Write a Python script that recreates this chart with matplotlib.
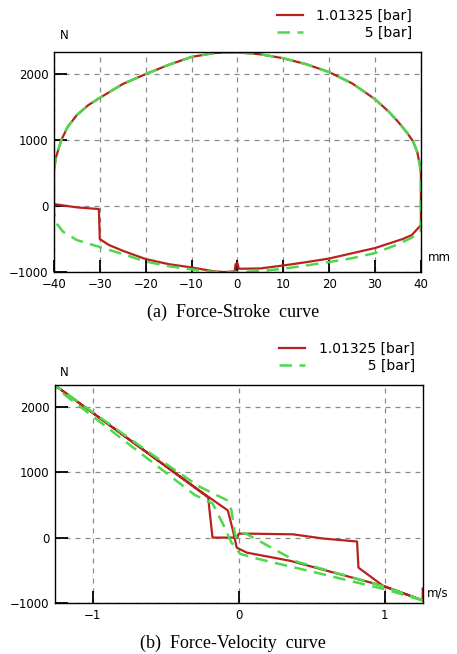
import numpy as np
import matplotlib
matplotlib.use("Agg")
import matplotlib.pyplot as plt

# ---- data ----
# (a) force-stroke, upper arc (shared shape) and lower branches
arc_stroke = [-40, -40, -39.5, -38.4, -37, -35, -32.5, -30, -25, -20, -15, -10, -5, 0,
              5, 10, 15, 20, 25, 30, 33, 35, 37, 38.3, 39.2, 39.7, 40]
arc_force = [30, 550, 750, 1000, 1200, 1380, 1530, 1640, 1850, 2000, 2140, 2260, 2320, 2330,
             2300, 2240, 2150, 2030, 1860, 1620, 1430, 1280, 1110, 980, 820, 650, 500]

low_stroke_red = [40, 38, 36, 30, 25, 20, 15, 10, 5, 0.3, 0, -0.4, -0.6, -3, -5, -10, -15,
                  -20, -25, -28, -30, -30.2, -35, -40]
low_force_red = [-290, -440, -500, -636, -715, -795, -850, -900, -945, -950, -860, -880, -990,
                 -1000, -990, -930, -880, -803, -677, -590, -500, -45, -20, 30]

low_stroke_green = [40, 38, 35, 30, 25, 20, 15, 10, 5, 0, -5, -10, -15, -20, -25, -30, -35,
                    -38, -39.5, -40, -40]
low_force_green = [-370, -480, -580, -712, -790, -848, -900, -950, -985, -1000, -1000, -960,
                   -910, -840, -727, -621, -515, -389, -258, -90, 550]

# (b) force-velocity loops
vel_red = [1.26, 1.26, 0.99, 0.82, 0.81, 0.58, 0.37, 0.07, 0.0, -0.01, -0.18, -0.21, -1.26,
           -0.27, -0.075, -0.04, -0.014, 0.055, 0.35, 0.99, 1.26]
fv_red = [-780, -960, -740, -460, -60, -15, 50, 60, 60, 0, 0, 615, 2330,
          720, 415, 108, -154, -230, -354, -740, -960]

vel_green = [1.26, 1.0, 0.5, 0.14, 0.01, -0.05, -0.11, -0.18, -0.3, -1.26, -1.26, -0.6,
             -0.27, -0.08, -0.05, -0.03, -0.02, 0.0, 0.05, 0.26, 0.4, 1.0, 1.26]
fv_green = [-960, -790, -520, -330, -250, -77, 215, 523, 650, 2300, 2330, 1280,
            780, 570, 415, 108, 0, 80, 60, -200, -370, -750, -960]

labels = ["1.01325 [bar]", "\u2007\u2007\u2007\u2007\u2008\u20075 [bar]"]
red = "#b8221e"
green = "#4ed84e"

fig = plt.figure(figsize=(4.57, 6.54), dpi=100)


def style_axes(ax):
    ax.grid(True, color="#8a8a8a", linestyle=(0, (4, 4)), linewidth=0.9)
    ax.tick_params(direction="in", length=9, width=1.3, labelsize=8.5, pad=4,
                   top=False, right=False)
    ax.set_yticks([-1000, 0, 1000, 2000])
    ax.set_ylim(-1000, 2330)
    for s in ax.spines.values():
        s.set_linewidth(1.0)


# top panel
ax1 = fig.add_axes([0.118, 0.584, 0.803, 0.336])
x_red = arc_stroke + low_stroke_red
y_red = arc_force + low_force_red
x_green = arc_stroke[1:] + low_stroke_green
y_green = arc_force[1:] + low_force_green
ax1.plot(x_red, y_red, color=red, lw=1.6, label=labels[0])
ax1.plot(x_green, y_green, color=green, lw=1.8, dashes=(5, 3), label=labels[1])
ax1.set_xlim(-40, 40)
ax1.set_xticks(np.arange(-40, 41, 10))
style_axes(ax1)
ax1.text(0.015, 1.06, "N", transform=ax1.transAxes, fontsize=8.5)
ax1.text(1.02, 0.05, "mm", transform=ax1.transAxes, fontsize=8.5)
ax1.legend(loc="upper right", bbox_to_anchor=(0.93, 1.005),
           bbox_transform=fig.transFigure, frameon=False, fontsize=10,
           handlelength=1.9, handletextpad=0.95, labelspacing=0.2)
fig.text(0.51, 0.523, "(a)  Force-Stroke  curve", ha="center", va="center",
         family="Liberation Serif", fontsize=13)

# bottom panel
ax2 = fig.add_axes([0.120, 0.078, 0.805, 0.333])
ax2.plot(vel_red, fv_red, color=red, lw=1.6, label=labels[0])
ax2.plot(vel_green, fv_green, color=green, lw=1.8, dashes=(5, 3), label=labels[1])
ax2.set_xlim(-1.26, 1.26)
ax2.set_xticks([-1, 0, 1])
style_axes(ax2)
ax2.text(0.015, 1.04, "N", transform=ax2.transAxes, fontsize=8.5)
ax2.text(1.01, 0.03, "m/s", transform=ax2.transAxes, fontsize=8.5)
ax2.legend(loc="upper right", bbox_to_anchor=(0.935, 0.496),
           bbox_transform=fig.transFigure, frameon=False, fontsize=10,
           handlelength=1.9, handletextpad=0.95, labelspacing=0.2)
fig.text(0.51, 0.017, "(b)  Force-Velocity  curve", ha="center", va="center",
         family="Liberation Serif", fontsize=13)

fig.savefig("out.png", dpi=100)
